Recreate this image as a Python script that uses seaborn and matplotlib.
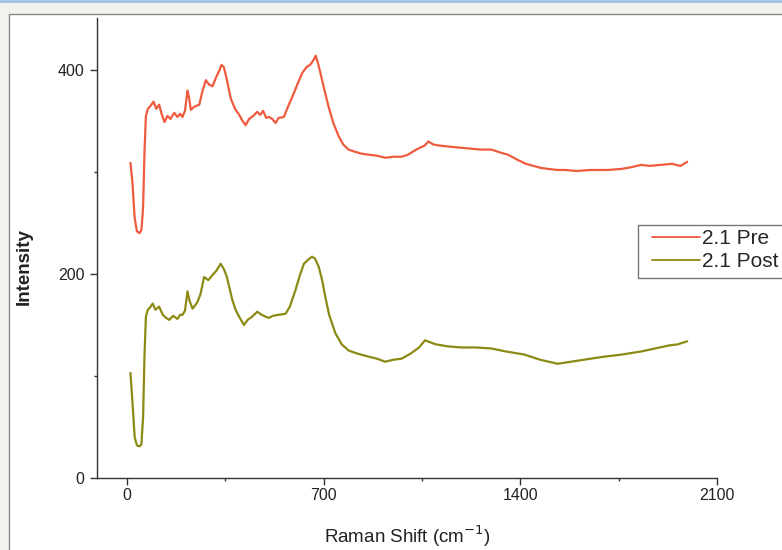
import numpy as np
import pandas as pd
import matplotlib
matplotlib.use("Agg")
import matplotlib.pyplot as plt
from matplotlib.patches import Rectangle
from matplotlib.ticker import MultipleLocator
import seaborn as sns

# ---- data ----
pre_x = [13, 20, 28, 36, 45, 52, 58, 63, 68, 75, 85, 95, 105, 115, 125, 134, 145, 155, 169, 180,
         190, 198, 207, 216, 222, 228, 240, 258, 268, 281, 292, 305, 318, 330, 337, 345, 355, 370,
         385, 400, 412, 423, 435, 450, 464, 475, 485, 496, 506, 518, 529, 540, 559, 575, 594, 610,
         624, 640, 652, 665, 672, 680, 689, 700, 718, 735, 754, 770, 789, 810, 835, 860, 890, 920,
         950, 978, 1000, 1030, 1060, 1073, 1090, 1110, 1144, 1180, 1220, 1260, 1297, 1330, 1356,
         1390, 1420, 1474, 1500, 1533, 1560, 1600, 1650, 1711, 1760, 1800, 1829, 1860, 1900, 1940,
         1970, 1994]
pre_y = [309, 290, 255, 242, 240, 243, 265, 320, 355, 362, 365, 369, 362, 366, 356, 349, 355, 352,
         358, 354, 357, 354, 360, 380, 372, 361, 364, 366, 378, 390, 386, 384, 393, 400, 405, 403,
         392, 372, 362, 356, 350, 346, 352, 355, 359, 356, 360, 353, 354, 352, 348, 353, 354, 365,
         377, 388, 397, 403, 405, 410, 414, 407, 397, 384, 364, 348, 335, 327, 322, 320, 318, 317,
         316, 314, 315, 315, 317, 322, 326, 330, 327, 326, 325, 324, 323, 322, 322, 319, 317, 312,
         308, 304, 303, 302, 302, 301, 302, 302, 303, 305, 307, 306, 307, 308, 306, 310]

post_x = [13, 20, 28, 36, 45, 52, 58, 63, 68, 75, 85, 92, 102, 115, 128, 140, 151, 165, 180, 190,
          198, 207, 216, 223, 234, 245, 252, 262, 275, 290, 305, 318, 334, 345, 355, 364, 375, 387,
          400, 417, 430, 445, 464, 480, 495, 506, 520, 540, 565, 580, 600, 615, 630, 645, 659, 670,
          683, 695, 706, 720, 742, 765, 789, 820, 860, 890, 919, 950, 978, 1010, 1040, 1061, 1080,
          1100, 1144, 1190, 1240, 1297, 1350, 1415, 1470, 1533, 1580, 1651, 1700, 1760, 1829, 1880,
          1930, 1960, 1994]
post_y = [103, 75, 40, 32, 31, 33, 60, 120, 158, 165, 168, 171, 165, 168, 160, 157, 155, 159, 156,
          160, 160, 164, 183, 174, 166, 170, 173, 180, 197, 194, 199, 203, 210, 205, 198, 188, 175,
          165, 158, 150, 155, 158, 163, 160, 158, 157, 159, 160, 161, 168, 184, 198, 210, 214, 217,
          215, 207, 194, 178, 160, 142, 131, 125, 122, 119, 117, 114, 116, 117, 122, 128, 135, 133,
          131, 129, 128, 128, 127, 124, 121, 116, 112, 114, 117, 119, 121, 124, 127, 130, 131, 134]

series_names = ["2.1 Pre", "2.1 Post"]
x_ticks = [0, 700, 1400, 2100]
y_ticks = [0, 200, 400]

df = pd.concat([
    pd.DataFrame({"shift": pre_x, "intensity": pre_y, "series": series_names[0]}),
    pd.DataFrame({"shift": post_x, "intensity": post_y, "series": series_names[1]}),
], ignore_index=True)

sns.set_style("ticks")
plt.rcParams["font.family"] = ["Liberation Sans", "DejaVu Sans"]

W, H = 782, 550
fig = plt.figure(figsize=(W / 100, H / 100), dpi=100)
fig.patch.set_facecolor("#f3f3ee")
# white panel with thin gray border, blue strip on top
fig.patches.append(Rectangle((9 / W, -0.01), 1, 1.01 - 14 / H, transform=fig.transFigure,
                             facecolor="white", edgecolor="#8a8a8a", linewidth=1.0, zorder=-10))
fig.patches.append(Rectangle((0, 1 - 3 / H), 1, 3 / H, transform=fig.transFigure,
                             facecolor="#a9c3e6", edgecolor="none", zorder=-10))
# legend frame (extends past the right edge, as in the reference)
fig.patches.append(Rectangle((638 / W, 1 - 278 / H), 200 / W, 53 / H, transform=fig.transFigure,
                             facecolor="white", edgecolor="#777777", linewidth=1.0, zorder=-5))

ax = fig.add_axes([97 / W, 1 - 478 / H, (717 - 97) / W, (478 - 18) / H])
ax.set_zorder(5)
ax.set_facecolor("none")

palette = {series_names[0]: "#ef5b3e", series_names[1]: "#8c8a14"}
sns.lineplot(data=df, x="shift", y="intensity", hue="series", palette=palette,
             estimator=None, sort=False, linewidth=1.6, ax=ax, legend=True)

ax.set_xlim(-106, 2100)
ax.set_ylim(0, 451)
ax.set_xticks(x_ticks)
ax.set_yticks(y_ticks)
ax.xaxis.set_minor_locator(MultipleLocator(350))
ax.yaxis.set_minor_locator(MultipleLocator(100))
ax.tick_params(axis="both", which="major", direction="out", length=5, width=1,
               color="#333333", labelsize=11.5, labelcolor="#222222")
ax.tick_params(axis="x", which="major", pad=2)
ax.tick_params(axis="y", which="major", pad=4)
ax.tick_params(axis="both", which="minor", direction="out", length=2.5, width=1, color="#333333")
sns.despine(ax=ax)
for s in ["left", "bottom"]:
    ax.spines[s].set_color("#333333")
    ax.spines[s].set_linewidth(1.0)

ax.set_xlabel("Raman Shift (cm$^{-1}$)", fontsize=13.5, color="#222222")
ax.xaxis.set_label_coords(0.5, -0.098)
ax.set_ylabel("Intensity", fontsize=13.5, fontweight="bold", color="#222222")
ax.yaxis.set_label_coords(-0.103, 0.459)

leg = ax.legend(loc="upper left", bbox_to_anchor=(652 / W, 1 - 229 / H),
                bbox_transform=fig.transFigure, frameon=False,
                fontsize=15, handlelength=2.3, handletextpad=0.1, borderpad=0,
                labelspacing=0.2, borderaxespad=0)
for line in leg.get_lines():
    line.set_linewidth(1.3)

fig.savefig("out.png", dpi=100, facecolor=fig.get_facecolor())
